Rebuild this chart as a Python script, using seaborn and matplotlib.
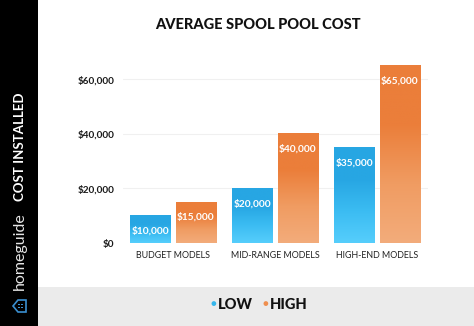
import numpy as np
import pandas as pd
import matplotlib
matplotlib.use("Agg")
import matplotlib.pyplot as plt
import seaborn as sns
from matplotlib.colors import LinearSegmentedColormap
from matplotlib.patches import Rectangle, Polygon

categories = ["BUDGET MODELS", "MID-RANGE MODELS", "HIGH-END MODELS"]
low_values = [10000, 20000, 35000]
high_values = [15000, 40000, 65000]
series = ["LOW", "HIGH"]
yticks = [0, 20000, 40000, 60000]
ytick_labels = ["$0", "$20,000", "$40,000", "$60,000"]

df = pd.DataFrame({
    "category": categories * 2,
    "series": ["LOW"] * 3 + ["HIGH"] * 3,
    "value": low_values + high_values,
})

sns.set_theme(style="white")
plt.rcParams["font.family"] = ["Lato", "DejaVu Sans"]

W, H = 474, 326
fig = plt.figure(figsize=(W / 100, H / 100), dpi=100)

# sidebar
fig.patches.append(Rectangle((0, 0), 38 / W, 1, transform=fig.transFigure,
                             facecolor="black", edgecolor="none", zorder=0))
# footer
fig.patches.append(Rectangle((38 / W, 0), 1 - 38 / W, 39 / H, transform=fig.transFigure,
                             facecolor="#ebebeb", edgecolor="none", zorder=0))

ax = fig.add_axes([123 / W, (H - 243) / H, (428 - 123) / W, 182.6 / H])
palette = {"LOW": "#35b6ec", "HIGH": "#ef8f4f"}
sns.barplot(data=df, x="category", y="value", hue="series", order=categories,
            hue_order=series, palette=palette, width=0.9, gap=0.11,
            legend=False, ax=ax, saturation=1)

grads = {
    "LOW": LinearSegmentedColormap.from_list("b", ["#56cefc", "#3bbcf2", "#27a6e3", "#27a6e3"]),
    "HIGH": LinearSegmentedColormap.from_list("o", ["#f3ac7b", "#f09c62", "#eb7e3a", "#eb7e3a"]),
}

grad = np.linspace(0, 1, 256).reshape(-1, 1)
patches = sorted(ax.patches, key=lambda p: p.get_x())
vals_by_x = []
for i, cat in enumerate(categories):
    vals_by_x.append(("LOW", low_values[i]))
    vals_by_x.append(("HIGH", high_values[i]))
for p, (s, v) in zip(patches, vals_by_x):
    x0, w, h = p.get_x(), p.get_width(), p.get_height()
    p.set_facecolor("none")
    ax.imshow(grad, extent=(x0, x0 + w, 0, h), origin="lower", aspect="auto",
              cmap=grads[s], zorder=2)
    ax.annotate(f"${v:,.0f}", (x0 + w / 2, h), xytext=(0, -11),
                textcoords="offset points", ha="center", va="center",
                color="white", fontsize=7.3, fontweight="bold", zorder=3)

ax.set_ylim(0, 67000)
ax.set_xlim(-0.49, 2.5)

ax.set_yticks(yticks)
ax.set_yticklabels(ytick_labels, fontsize=7.2, fontweight="bold", color="#1a1a1a")
ax.tick_params(axis="y", length=0, pad=6)
ax.tick_params(axis="x", length=0, pad=6)
ax.set_xticks(range(3))
ax.set_xticklabels(categories, fontsize=6.4, color="#222222")
ax.set_xlabel("")
ax.set_ylabel("")
for sp in ax.spines.values():
    sp.set_visible(False)
for y in yticks[1:]:
    ax.axhline(y, color="#f0f0f0", linewidth=0.8, zorder=0)

fig.text(258 / W, 1 - 25 / H, "AVERAGE SPOOL POOL COST", ha="center", va="center",
         fontsize=10.5, fontweight="black", color="#111111")

# sidebar texts
fig.text(20 / W, 1 - 147 / H, "COST INSTALLED", rotation=90, ha="center", va="center",
         fontsize=9.5, fontweight="bold", color="white")
fig.text(20 / W, 1 - 251 / H, "homeguide", rotation=90, ha="center", va="center",
         fontsize=11.5, fontweight="normal", color="#e6e6e6")
# house icon (rotated, roof pointing left)
hx, hy = 20, 306
pts = [(hx - 7, hy), (hx - 2, hy - 6), (hx + 6, hy - 6), (hx + 6, hy + 6), (hx - 2, hy + 6)]
fig.patches.append(Polygon([(x / W, 1 - y / H) for x, y in pts], closed=True,
                           transform=fig.transFigure, facecolor="none",
                           edgecolor="#3a8fd0", linewidth=1.2))
for dx in (-1, 2):
    for dy in (-1.5, 1.5):
        fig.patches.append(Rectangle(((hx + dx - 0.7) / W, 1 - (hy + dy + 0.7) / H), 1.4 / W, 1.4 / H,
                                     transform=fig.transFigure, facecolor="#3a8fd0",
                                     edgecolor="none"))

# legend
fig.text(213 / W, 1 - 305 / H, "\u25cf", ha="center", va="center", fontsize=7, color="#35b6ec")
fig.text(218 / W, 1 - 305 / H, "LOW", ha="left", va="center", fontsize=10.5,
         fontweight="black", color="#111111")
fig.text(265 / W, 1 - 305 / H, "\u25cf", ha="center", va="center", fontsize=7, color="#ef8f4f")
fig.text(270 / W, 1 - 305 / H, "HIGH", ha="left", va="center", fontsize=10.5,
         fontweight="black", color="#111111")

fig.savefig("out.png", dpi=100)
